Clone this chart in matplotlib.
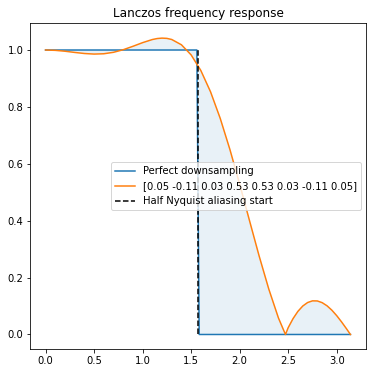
import numpy as np
import matplotlib
matplotlib.use("Agg")
import matplotlib.pyplot as plt

# Filter response (magnitude)
freq = [0.0, 0.1, 0.2, 0.3, 0.4, 0.5, 0.6, 0.7, 0.8, 0.9, 1.0, 1.1, 1.15,
        1.2, 1.25, 1.3, 1.4, 1.5, 1.6, 1.7, 1.8, 1.9, 2.0, 2.1, 2.2, 2.3,
        2.4, 2.472, 2.5, 2.55, 2.6, 2.65, 2.7, 2.75, 2.8, 2.85, 2.9, 2.95,
        3.0, 3.05, 3.1, 3.1416]
resp = [1.000, 0.9988, 0.9957, 0.9915, 0.9877, 0.9857, 0.9868, 0.9919,
        1.0010, 1.0130, 1.0259, 1.0368, 1.0403, 1.0418, 1.0409, 1.0370,
        1.0184, 0.9828, 0.9279, 0.8531, 0.7595, 0.6498, 0.5287, 0.4021,
        0.2768, 0.1598, 0.0577, 0.0, 0.0239, 0.0557, 0.0812, 0.1000,
        0.1123, 0.1182, 0.1179, 0.1119, 0.1009, 0.0854, 0.0662, 0.0442,
        0.0205, 0.0]

# Perfect downsampling step
perfect_freq = [0.0, 1.559, 1.583, 3.1416]
perfect_resp = [1.0, 1.0, 0.0, 0.0]

# Half Nyquist marker
half_nyquist = 1.5708
marker_range = [0.0, 1.0]

filter_label = "[0.05 -0.11 0.03 0.53 0.53 0.03 -0.11 0.05]"

fig = plt.figure(figsize=(372 / 72, 373 / 72), dpi=72)
ax = fig.add_axes([30.3 / 372, 1 - 349.3 / 373, (365.7 - 30.3) / 372, (349.3 - 23.3) / 373])

ax.plot(perfect_freq, perfect_resp, color="C0", label="Perfect downsampling")
ax.plot(freq, resp, color="C1", label=filter_label)
ax.plot([half_nyquist, half_nyquist], marker_range, "k--", label="Half Nyquist aliasing start")

poly_x = list(freq) + list(perfect_freq[::-1])
poly_y = list(resp) + list(perfect_resp[::-1])
ax.fill(poly_x, poly_y, color="C0", alpha=0.1, linewidth=0)

ax.set_title("Lanczos frequency response")
ax.legend(loc="center right")

fig.savefig("out.png", dpi=72)
